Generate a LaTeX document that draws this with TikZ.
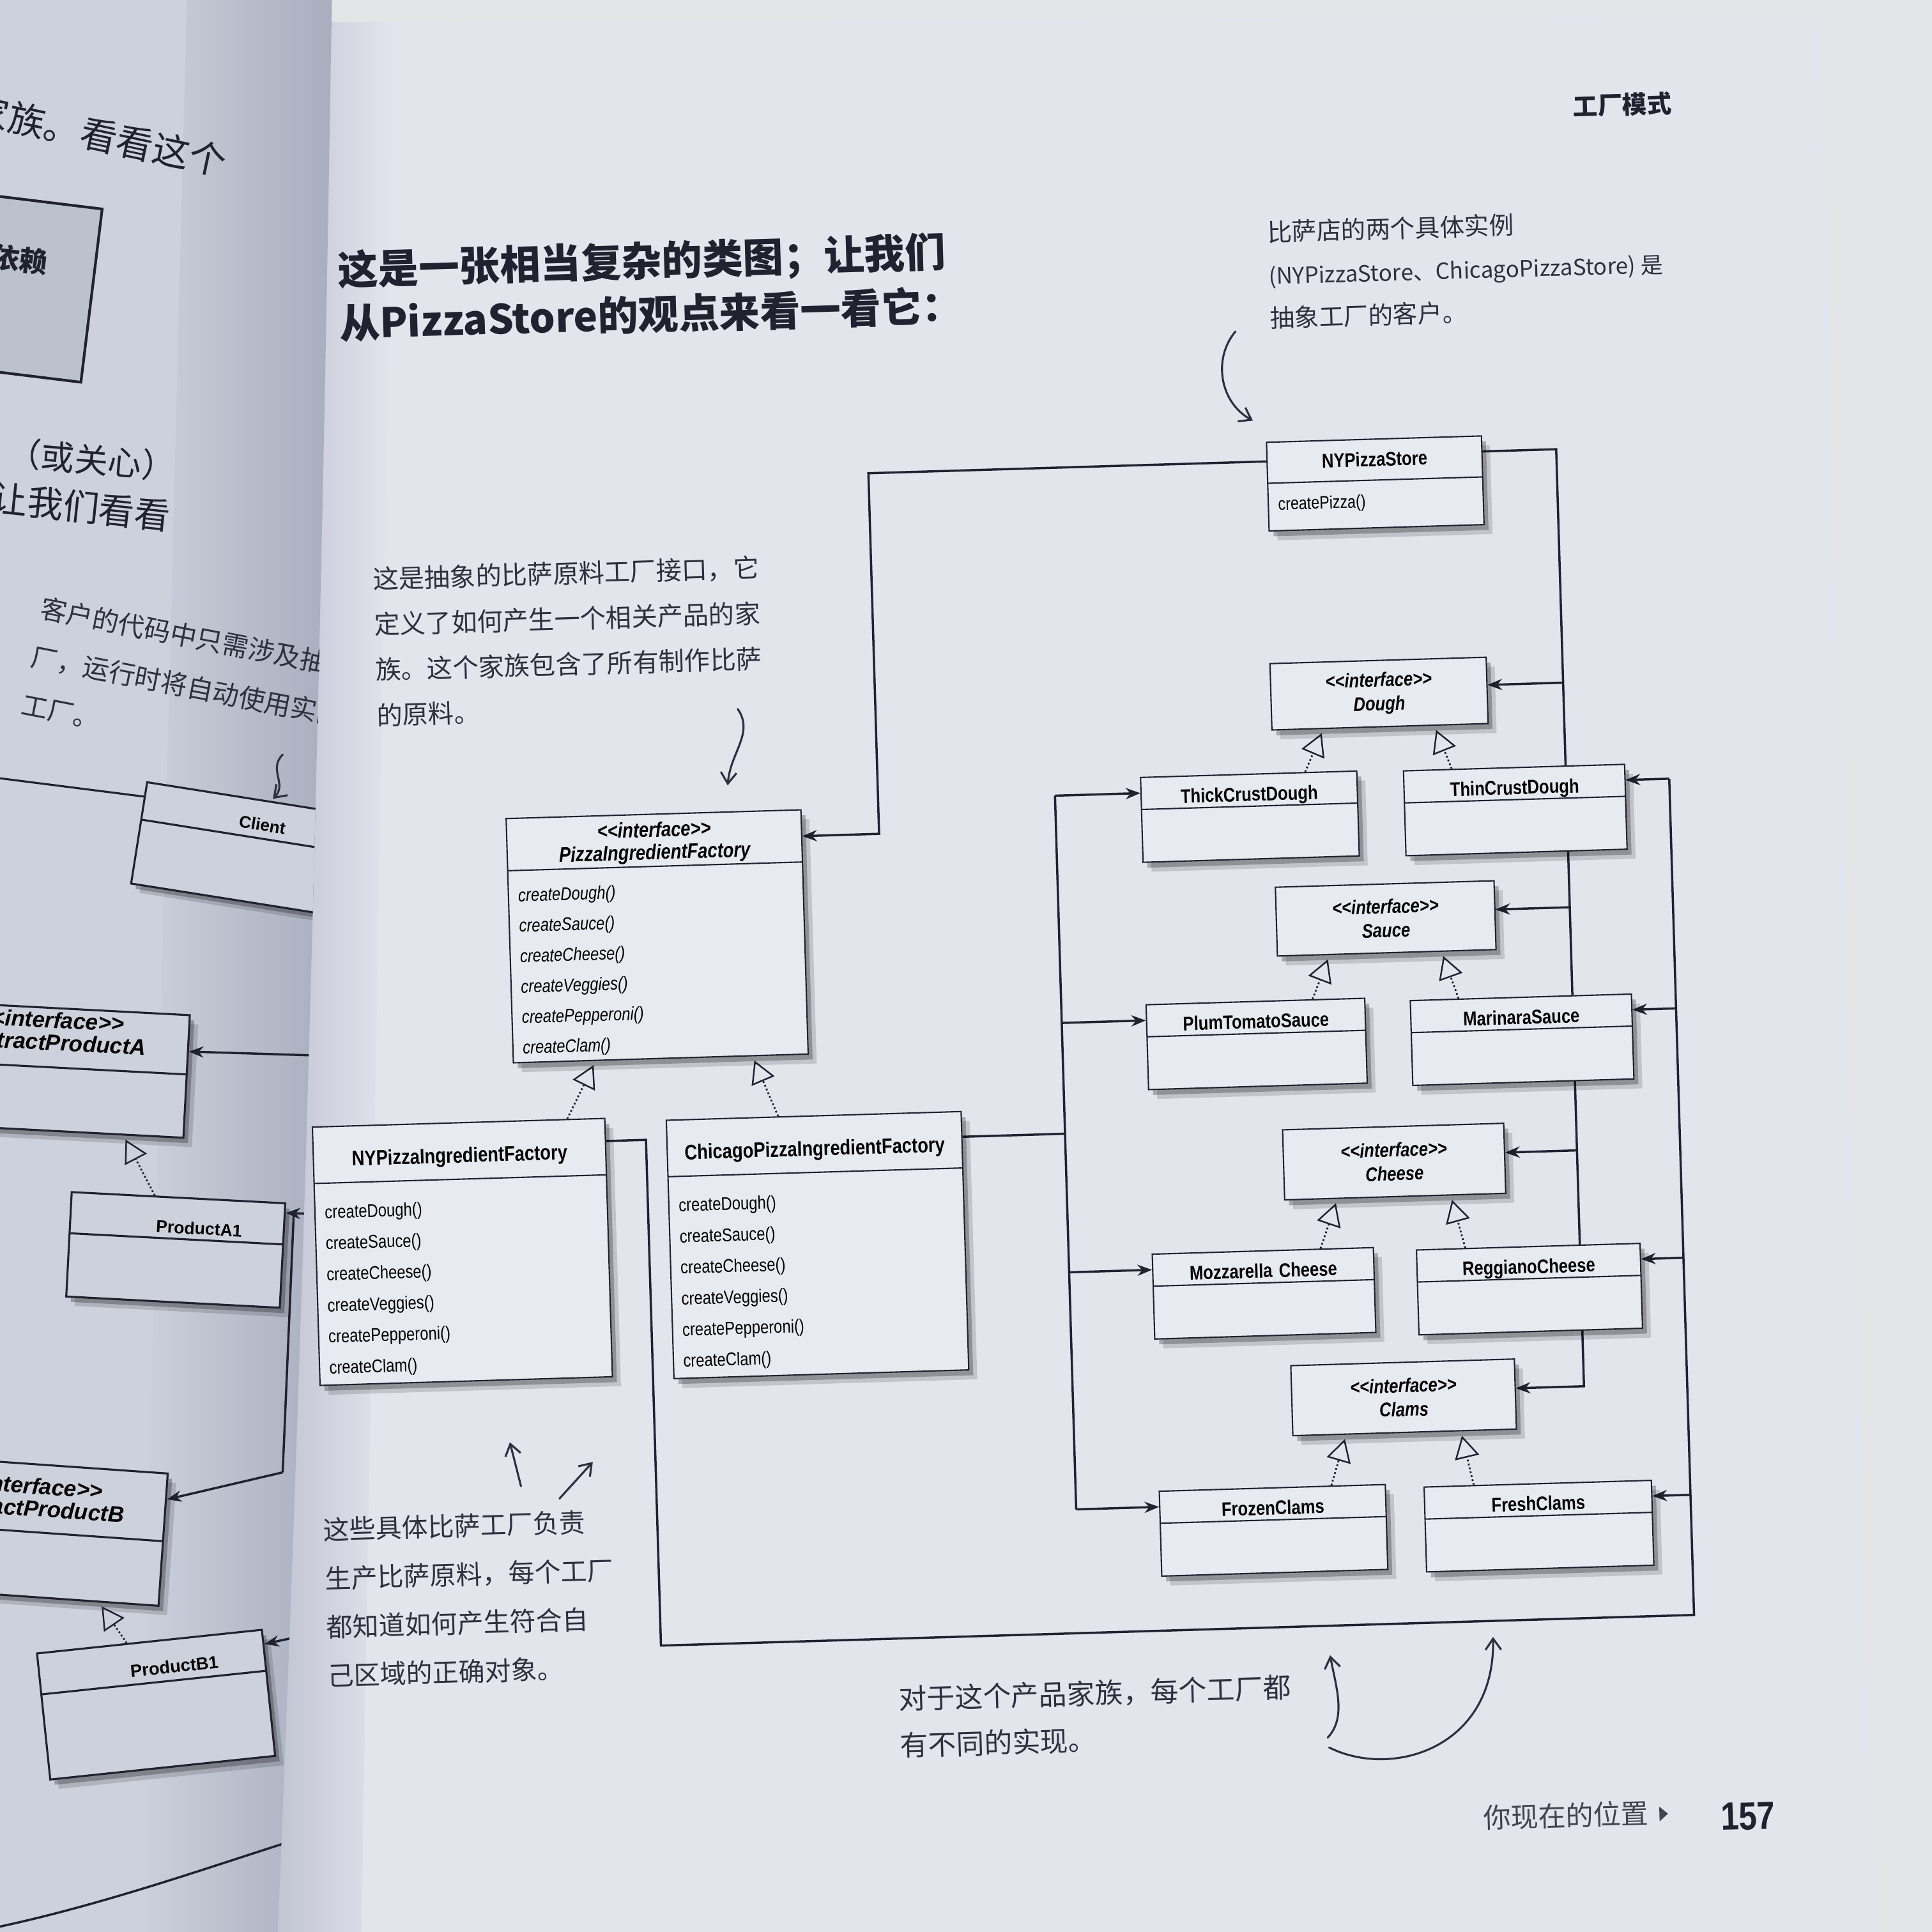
\documentclass[tikz,border=0pt]{standalone}
\usepackage{fontspec}
\setmainfont{Liberation Sans}
\newfontfamily\umlfont[FakeStretch=0.83]{Liberation Sans}
\newfontfamily\cjk{Noto Sans CJK SC}
\usetikzlibrary{shapes.multipart,arrows.meta,positioning,calc,shadows}
\definecolor{ink}{RGB}{32,35,47}
\definecolor{pencil}{RGB}{46,49,61}
\definecolor{pagecol}{RGB}{227,229,237}
\definecolor{boxfill}{RGB}{232,234,241}
\definecolor{leftcol}{RGB}{205,209,220}
\definecolor{leftdark}{RGB}{168,174,190}
\definecolor{wallcol}{RGB}{228,229,230}
\newdimen\pxu \pxu=0.5487pt
\newcommand{\stereo}{<\kern0pt<interface>\kern0pt>}
\pgfdeclarelayer{paper}
\pgfdeclarelayer{wires}
\pgfsetlayers{paper,wires,main}

\begin{document}
\begin{tikzpicture}[x=0.019286cm, y=-0.019286cm,
    boxshadow/.style={drop shadow={shadow xshift=3.8pt, shadow yshift=-4.2pt,
        opacity=0.14, fill=black}, drop shadow={shadow xshift=2pt, shadow yshift=-2.4pt,
        opacity=0.26, fill=black}},
    cls/.style={rectangle split, rectangle split parts=2, draw=ink, fill=boxfill,
        line width=0.6pt, inner xsep=8\pxu, inner ysep=0pt, align=center,
        font=\umlfont\fontsize{8.8}{10}\selectfont, boxshadow},
    iface/.style={draw=ink, fill=boxfill, line width=0.6pt, inner sep=0pt, align=center,
        font=\umlfont\bfseries\itshape\fontsize{8.8}{10.6}\selectfont, boxshadow},
    lcls/.style={cls, fill=leftcol, line width=0.9pt, font=\normalfont\fontsize{9}{10}\selectfont},
    bus/.style={draw=ink, line width=1pt},
    arr/.style={bus, -{Stealth[length=6.5pt, width=5pt]}},
    real/.style={draw=ink, line width=0.8pt, densely dotted, shorten >=2pt,
        -{Triangle[open, length=10pt, width=11pt, line width=0.7pt]}},
    note/.style={text=pencil, align=left, inner sep=0pt},
    hand/.style={draw=pencil, line width=0.9pt, line cap=round,
        -{Straight Barb[length=5pt, width=7pt]}}
]
    % Paper: wall, right page, facing page
    \begin{pgfonlayer}{paper}
        \fill[wallcol] (-2,-2) rectangle (1570,1570);
        \fill[pagecol] (262,16) -- (1479,10) -- (1524,1570) -- (220,1570) -- cycle;
        \shade[left color=leftdark!60!pagecol, right color=pagecol]
            (262,16) -- (318,16) -- (292,1570) -- (220,1570) -- cycle;
        \fill[leftcol] (-2,-2) -- (268,-2) .. controls (260,500) and (248,1000) .. (224,1570) -- (-2,1570) -- cycle;
        \shade[left color=leftcol, right color=leftdark]
            (150,-2) -- (268,-2) .. controls (260,500) and (248,1000) .. (224,1570) -- (110,1570) -- cycle;
    \end{pgfonlayer}

    % Facing page (left), cut by the gutter
    \begin{scope}
        \clip (-2,-2) -- (268,-2) .. controls (260,500) and (248,1000) .. (224,1570) -- (-2,1570) -- cycle;
        \node[anchor=east, rotate=-12, inner sep=0pt, text=ink, font=\cjk\fontsize{16.5}{18}\selectfont] (lpA) at (182,130) {家族。看看这个};
        \node[draw=ink, line width=1.2pt, fill=leftdark!45!leftcol, minimum width=140\pxu,
            minimum height=142\pxu, rotate=-7] (lpBox) at (3,230) {};
        \node[anchor=east, rotate=-7, inner sep=0pt, text=ink, font=\cjk\bfseries\fontsize{12.5}{14}\selectfont] (lpBoxText) at (37,212) {依赖};
        \node[anchor=west, rotate=-5, inner sep=0pt, text=ink, font=\cjk\fontsize{15}{18}\selectfont] (lpB) at (4,366) {（或关心）};
        \node[anchor=east, rotate=-6, inner sep=0pt, text=ink, font=\cjk\fontsize{16}{18}\selectfont] (lpC) at (137,418) {让我们看看};
        \node[note, anchor=north west, rotate=-11, font=\cjk\fontsize{11.8}{22}\selectfont] (lpNote) at (33,482)
            {客户的代码中只需涉及抽象工\\厂，运行时将自动使用实际的\\工厂。};
        \coordinate (lpN1) at (228,612);
        \coordinate (lpN2) at (220,648);
        \draw[hand] (lpN1) .. controls (216,624) and (232,636) .. (lpN2);

        % Classes on the facing page
        \node[lcls, text width=180\pxu, rotate=-9] (client) at (208,691)
            {\rule[-3pt]{0pt}{16pt}\textbf{\fontsize{7.5}{8}\selectfont Client}\nodepart{two}\rule{0pt}{28pt}};
        \node[lcls, text width=208\pxu, rotate=-3] (absA) at (38,868)
            {\bfseries\itshape\fontsize{10}{14.3}\selectfont\rule{0pt}{8.5pt}\stereo\\AbstractProductA\rule[-7.1pt]{0pt}{0pt}%
             \nodepart{two}\rule{0pt}{27.4pt}};
        \node[lcls, text width=158\pxu, rotate=-3] (prodA) at (141,1015)
            {\rule[-2pt]{0pt}{17.5pt}\hspace*{36\pxu}\textbf{\fontsize{7.6}{9}\selectfont ProductA1}\nodepart{two}\rule{0pt}{27.4pt}};
        \node[lcls, text width=206\pxu, rotate=-4] (absB) at (20,1243)
            {\bfseries\itshape\fontsize{10}{13.6}\selectfont\rule{0pt}{12.8pt}\stereo\\AbstractProductB\rule[-6.6pt]{0pt}{0pt}%
             \nodepart{two}\rule{0pt}{28pt}};
        \node[lcls, text width=168\pxu, rotate=6] (prodB) at (125,1385)
            {\rule[-3pt]{0pt}{17.5pt}\hspace*{36\pxu}\textbf{\fontsize{7.8}{9}\selectfont ProductB1}\nodepart{two}\rule{0pt}{37.3pt}};

        % Connectors on the facing page
        \coordinate (lpC0) at (-4,631);
        \draw[bus, line width=0.9pt] (lpC0) -- ($(client.north west)!0.15!(client.south west)$);
        \draw[real] ($(prodA.north west)!0.39!(prodA.north east)$) -- ($(absA.south west)!0.78!(absA.south east)$);
        \draw[real] ($(prodB.north west)!0.40!(prodB.north east)$) -- ($(absB.south west)!0.78!(absB.south east)$);
        \coordinate (gA) at (262,857);
        \coordinate (gA1) at (262,986);
        \coordinate (gB) at (237,986);
        \coordinate (gC) at (228,1196);
        \coordinate (gB1) at (262,1325);
        \draw[arr] (gA) -- ($(absA.north east)!0.3!(absA.south east)$);
        \draw[arr] (gA1) -- ($(prodA.north east)!0.1!(prodA.south east)$);
        \draw[bus] (gB) -- (gC);
        \draw[arr] (gC) -- ($(absB.north east)!0.2!(absB.south east)$);
        \draw[arr] (gB1) -- ($(prodB.north east)!0.12!(prodB.south east)$);
        \coordinate (bc0) at (-4,1566);
        \coordinate (bc1) at (232,1497);
        \draw[bus] (bc0) .. controls (80,1548) and (160,1520) .. (bc1);
    \end{scope}

    % Right page (photo is turned slightly)
    \begin{scope}[rotate around={1.7:(900,900)}, every node/.append style={transform shape}]
        % Heading and title
        \node[font=\cjk\bfseries\fontsize{11}{13}\selectfont, text=ink] (chapter) at (1342,96) {工厂模式};
        \node[anchor=west, align=left, inner sep=0pt, text=ink,
            font=\cjk\bfseries\fontsize{18.1}{24.1}\selectfont] (title) at (293,221)
            {这是一张相当复杂的类图；让我们\\从PizzaStore的观点来看一看它：};

        % Client of the abstract factory
        \node[cls, text width=159\pxu] (NYPS) at (1132,398)
            {\rule[-5.9pt]{0pt}{17.7pt}\textbf{NYPizzaStore}%
             \nodepart{two}\raggedright\fontsize{8}{10}\selectfont\rule[-8.9pt]{0pt}{20.7pt}createPizza()\par};

        % Abstract factory and concrete factories
        \node[cls, text width=224\pxu] (PIF) at (537,749)
            {\bfseries\itshape\fontsize{9.4}{12}\selectfont\rule{0pt}{9.9pt}\stereo\\PizzaIngredientFactory\rule[-2.8pt]{0pt}{0pt}%
             \nodepart{two}\raggedright\itshape\fontsize{8.2}{13.6}\selectfont\rule{0pt}{13.6pt}%
             createDough()\\createSauce()\\createCheese()\\createVeggies()\\createPepperoni()\\createClam()\rule[-3.6pt]{0pt}{0pt}\par};
        \node[cls, text width=222\pxu] (NYPIF) at (371,1001)
            {\bfseries\fontsize{9.4}{10}\selectfont\rule[-7.1pt]{0pt}{24.6pt}NYPizzaIngredientFactory%
             \nodepart{two}\raggedright\fontsize{8.2}{13.9}\selectfont\rule{0pt}{15.4pt}%
             createDough()\\createSauce()\\createCheese()\\createVeggies()\\createPepperoni()\\createClam()\rule[-4.7pt]{0pt}{0pt}\par};
        \node[cls, text width=224\pxu] (CPIF) at (660,1004)
            {\bfseries\fontsize{9.4}{10}\selectfont\rule[-7.1pt]{0pt}{24.6pt}ChicagoPizzaIngredientFactory%
             \nodepart{two}\raggedright\fontsize{8.2}{13.9}\selectfont\rule{0pt}{15.4pt}%
             createDough()\\createSauce()\\createCheese()\\createVeggies()\\createPepperoni()\\createClam()\rule[-4.7pt]{0pt}{0pt}\par};

        % Product families
        \node[iface, minimum width=176\pxu, minimum height=54\pxu] (DGH) at (1130,569) {\stereo\\Dough};
        \node[cls, text width=160\pxu] (TCD) at (1022,666) {\rule[-2pt]{0pt}{13.7pt}\textbf{ThickCrustDough}\nodepart{two}\rule{0pt}{23pt}};
        \node[cls, text width=164\pxu] (TNC) at (1238,667) {\rule[-2pt]{0pt}{13.7pt}\textbf{ThinCrustDough}\nodepart{two}\rule{0pt}{23pt}};

        \node[iface, minimum width=178\pxu, minimum height=56\pxu] (SAU) at (1130,752) {\stereo\\Sauce};
        \node[cls, text width=162\pxu] (PTS) at (1022,851) {\rule[-2pt]{0pt}{13.7pt}\textbf{PlumTomatoSauce}\nodepart{two}\rule{0pt}{23pt}};
        \node[cls, text width=164\pxu] (MNS) at (1238,854) {\rule[-2pt]{0pt}{13.7pt}\textbf{MarinaraSauce}\nodepart{two}\rule{0pt}{23pt}};

        \node[iface, minimum width=180\pxu, minimum height=57\pxu] (CHS) at (1131,950) {\stereo\\Cheese};
        \node[cls, text width=164\pxu] (MZC) at (1022,1054) {\rule[-2pt]{0pt}{13.7pt}\textbf{Mozzarella Cheese}\nodepart{two}\rule{0pt}{23pt}};
        \node[cls, text width=166\pxu] (RGC) at (1238,1057) {\rule[-2pt]{0pt}{13.7pt}\textbf{ReggianoCheese}\nodepart{two}\rule{0pt}{23pt}};

        \node[iface, minimum width=182\pxu, minimum height=57\pxu] (CLM) at (1133,1142) {\stereo\\Clams};
        \node[cls, text width=168\pxu] (FZC) at (1024,1247) {\rule[-2pt]{0pt}{13.7pt}\textbf{FrozenClams}\nodepart{two}\rule{0pt}{23pt}};
        \node[cls, text width=169\pxu] (FRC) at (1240,1250) {\rule[-2pt]{0pt}{13.7pt}\textbf{FreshClams}\nodepart{two}\rule{0pt}{23pt}};

        % Ports on the boxes
        \coordinate (nypsL)  at ($(NYPS.north west)!0.22!(NYPS.south west)$);
        \coordinate (nypsR)  at ($(NYPS.north east)!0.18!(NYPS.south east)$);
        \coordinate (pifR)   at ($(PIF.north east)!0.11!(PIF.south east)$);
        \coordinate (nypifR) at ($(NYPIF.north east)!0.09!(NYPIF.south east)$);
        \coordinate (cpifR)  at ($(CPIF.north east)!0.1!(CPIF.south east)$);
        \coordinate (dghR) at ($(DGH.north east)!0.42!(DGH.south east)$);
        \coordinate (sauR) at ($(SAU.north east)!0.42!(SAU.south east)$);
        \coordinate (chsR) at ($(CHS.north east)!0.42!(CHS.south east)$);
        \coordinate (clmR) at ($(CLM.north east)!0.42!(CLM.south east)$);
        \coordinate (tcdL) at ($(TCD.north west)!0.19!(TCD.south west)$);
        \coordinate (ptsL) at ($(PTS.north west)!0.19!(PTS.south west)$);
        \coordinate (mzcL) at ($(MZC.north west)!0.19!(MZC.south west)$);
        \coordinate (fzcL) at ($(FZC.north west)!0.19!(FZC.south west)$);
        \coordinate (tncR) at ($(TNC.north east)!0.19!(TNC.south east)$);
        \coordinate (mnsR) at ($(MNS.north east)!0.19!(MNS.south east)$);
        \coordinate (rgcR) at ($(RGC.north east)!0.19!(RGC.south east)$);
        \coordinate (frcR) at ($(FRC.north east)!0.19!(FRC.south east)$);

        % Bus lines (two points each)
        \coordinate (sl1) at (720,300);  \coordinate (sl2) at (720,700);
        \coordinate (sr1) at (1280,300); \coordinate (sr2) at (1280,1200);
        \coordinate (cb1) at (864,600);  \coordinate (cb2) at (864,1300);
        \coordinate (nb1) at (523,900);  \coordinate (nb2) at (523,1326);
        \coordinate (nr1) at (1364,600); \coordinate (nr2) at (1364,1326);

        \begin{pgfonlayer}{wires}
            % Store uses the factory and the products
            \draw[arr] (nypsL) -- ($(sl1)!(nypsL)!(sl2)$) -- ($(sl1)!(pifR)!(sl2)$) -- (pifR);
            \draw[arr] (nypsR) -- ($(sr1)!(nypsR)!(sr2)$) -- ($(sr1)!(clmR)!(sr2)$) -- (clmR);
            \draw[arr] ($(sr1)!(dghR)!(sr2)$) -- (dghR);
            \draw[arr] ($(sr1)!(sauR)!(sr2)$) -- (sauR);
            \draw[arr] ($(sr1)!(chsR)!(sr2)$) -- (chsR);

            % Chicago factory creates
            \draw[bus] (cpifR) -- ($(cb1)!(cpifR)!(cb2)$);
            \draw[bus] ($(cb1)!(tcdL)!(cb2)$) -- ($(cb1)!(fzcL)!(cb2)$);
            \draw[arr] ($(cb1)!(tcdL)!(cb2)$) -- (tcdL);
            \draw[arr] ($(cb1)!(ptsL)!(cb2)$) -- (ptsL);
            \draw[arr] ($(cb1)!(mzcL)!(cb2)$) -- (mzcL);
            \draw[arr] ($(cb1)!(fzcL)!(cb2)$) -- (fzcL);

            % NY factory creates
            \draw[bus] (nypifR) -- ($(nb1)!(nypifR)!(nb2)$) -- (nb2) -- (nr2) -- ($(nr1)!(tncR)!(nr2)$);
            \draw[arr] ($(nr1)!(tncR)!(nr2)$) -- (tncR);
            \draw[arr] ($(nr1)!(mnsR)!(nr2)$) -- (mnsR);
            \draw[arr] ($(nr1)!(rgcR)!(nr2)$) -- (rgcR);
            \draw[arr] ($(nr1)!(frcR)!(nr2)$) -- (frcR);

            % Realizations
            \draw[real] ($(NYPIF.north west)!0.87!(NYPIF.north east)$) -- ($(PIF.south west)!0.28!(PIF.south east)$);
            \draw[real] ($(CPIF.north west)!0.38!(CPIF.north east)$) -- ($(PIF.south west)!0.81!(PIF.south east)$);
            \draw[real] ($(TCD.north west)!0.76!(TCD.north east)$) -- ($(DGH.south west)!0.24!(DGH.south east)$);
            \draw[real] ($(TNC.north west)!0.22!(TNC.north east)$) -- ($(DGH.south west)!0.75!(DGH.south east)$);
            \draw[real] ($(PTS.north west)!0.76!(PTS.north east)$) -- ($(SAU.south west)!0.24!(SAU.south east)$);
            \draw[real] ($(MNS.north west)!0.22!(MNS.north east)$) -- ($(SAU.south west)!0.75!(SAU.south east)$);
            \draw[real] ($(MZC.north west)!0.76!(MZC.north east)$) -- ($(CHS.south west)!0.24!(CHS.south east)$);
            \draw[real] ($(RGC.north west)!0.22!(RGC.north east)$) -- ($(CHS.south west)!0.75!(CHS.south east)$);
            \draw[real] ($(FZC.north west)!0.76!(FZC.north east)$) -- ($(CLM.south west)!0.24!(CLM.south east)$);
            \draw[real] ($(FRC.north west)!0.22!(FRC.north east)$) -- ($(CLM.south west)!0.75!(CLM.south east)$);
        \end{pgfonlayer}

        % Handwritten notes
        \node[note, anchor=west, font=\cjk\fontsize{11}{19.2}\selectfont] (storeNote) at (1050,226)
            {比萨店的两个具体实例\\{\fontsize{10}{19.2}\selectfont (NYPizzaStore、ChicagoPizzaStore) 是}\\抽象工厂的客户。};
        \coordinate (sn1) at (1022,271);
        \coordinate (sn2) at (1034,344);
        \draw[hand] (sn1) .. controls (1003,292) and (1007,328) .. (sn2);

        \node[note, anchor=west, font=\cjk\fontsize{11.5}{20.3}\selectfont] (pifNote) at (314,507)
            {这是抽象的比萨原料工厂接口，它\\定义了如何产生一个相关产品的家\\族。这个家族包含了所有制作比萨\\的原料。};
        \coordinate (pn1) at (608,566);
        \coordinate (pn2) at (598,628);
        \draw[hand] (pn1) .. controls (621,586) and (601,601) .. (pn2);

        \node[note, anchor=west, font=\cjk\fontsize{11.7}{21.7}\selectfont] (facNote) at (251,1283)
            {这些具体比萨工厂负责\\生产比萨原料，每个工厂\\都知道如何产生符合自\\己区域的正确对象。};
        \coordinate (fa1) at (413,1193); \coordinate (fa2) at (405,1157);
        \coordinate (fb1) at (444,1204); \coordinate (fb2) at (472,1175);
        \draw[hand] (fa1) -- (fa2);
        \draw[hand] (fb1) -- (fb2);

        \node[note, anchor=west, font=\cjk\fontsize{12.5}{20.8}\selectfont] (famNote) at (715,1394)
            {对于这个产品家族，每个工厂都\\有不同的实现。};
        \coordinate (fm1) at (1063,1417); \coordinate (fm2) at (1067,1350);
        \coordinate (fm3) at (1064,1425); \coordinate (fm4) at (1200,1339);
        \draw[hand] (fm1) .. controls (1079,1401) and (1071,1376) .. (fm2);
        \draw[hand] (fm3) .. controls (1114,1452) and (1199,1430) .. (fm4);

        % Footer
        \node[font=\cjk\fontsize{12.3}{14}\selectfont, text=ink!85] (where) at (1255,1486) {你现在的位置};
        \fill[ink!85] (1331,1481) -- (1338,1487) -- (1331,1493) -- cycle;
        \node[font=\umlfont\bfseries\fontsize{17.5}{20}\selectfont, text=ink] (pageNo) at (1403,1491) {157};
    \end{scope}
\end{tikzpicture}
\end{document}
